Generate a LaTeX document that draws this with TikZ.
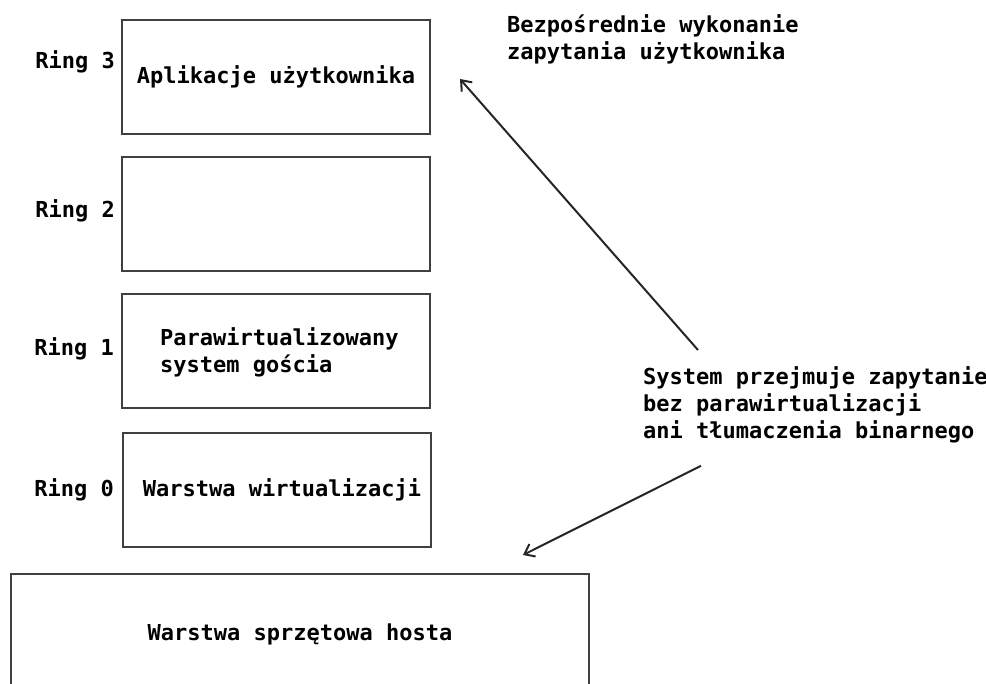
\documentclass[tikz,border=0pt]{standalone}
\usepackage{fontspec}
\setmainfont{DejaVu Sans Mono}
\usetikzlibrary{arrows.meta}

\begin{document}
\begin{tikzpicture}[x=1pt,y=-1pt,
	ringbox/.style={draw=black!75, line width=2.2pt, minimum width=308pt, minimum height=114pt, inner sep=0pt},
	txt/.style={font=\fontsize{22}{27}\selectfont\bfseries, inner sep=0pt},
	arr/.style={draw=black!85, line width=2pt, -{Straight Barb[length=9pt,width=14pt]}}]
			\useasboundingbox (0,0) rectangle (986,684);
			\clip (0,0) rectangle (986,684);
			% boxes
			\node[ringbox, txt] (r3) at (276,77) {Aplikacje użytkownika};
			\node[ringbox] (r2) at (276,214) {};
			\node[ringbox] (r1) at (276,351) {};
			\node[ringbox] (r0) at (277,490) {};
			\node[ringbox, txt, minimum width=578pt, minimum height=120pt] (host) at (300,634) {Warstwa sprzętowa hosta};
			\node[txt, anchor=west, align=left] (guest) at (160,352) {Parawirtualizowany\\system gościa};
			\node[txt] (virt) at (282,490) {Warstwa wirtualizacji};
			% ring labels
			\node[txt, anchor=east] (l3) at (115,62) {Ring 3};
			\node[txt, anchor=east] (l2) at (115,211) {Ring 2};
			\node[txt, anchor=east] (l1) at (114,349) {Ring 1};
			\node[txt, anchor=east] (l0) at (114,490) {Ring 0};
			% notes
			\node[txt, anchor=north west, align=left] (direct) at (507,14) {Bezpośrednie wykonanie\\zapytania użytkownika};
			\node[txt, anchor=north west, align=left] (sys) at (643,366) {System przejmuje zapytanie\\bez parawirtualizacji\\ani tłumaczenia binarnego};
			% arrows
			\coordinate (up) at (460,79);
			\coordinate (down) at (523,555);
			\draw[arr] (sys.north west) ++(55,-16) -- (up);
			\draw[arr] (sys.south west) ++(58,23) -- (down);
		\end{tikzpicture}
\end{document}
